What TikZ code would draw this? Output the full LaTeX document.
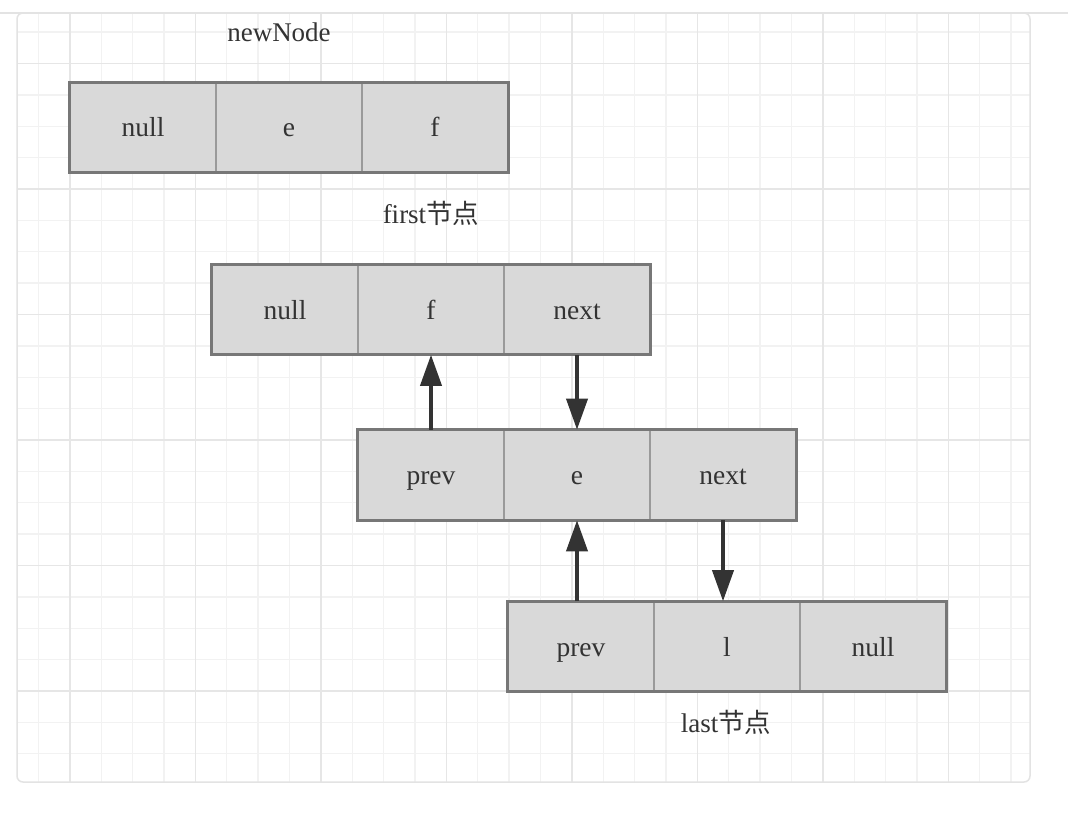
\documentclass[tikz,border=0pt]{standalone}
\usepackage{fontspec}
\setmainfont{Liberation Serif}
\newfontfamily\cjk{Noto Sans CJK SC}
\usetikzlibrary{arrows.meta}
\definecolor{cellfill}{HTML}{D9D9D9}
\definecolor{cellline}{HTML}{9A9A9A}
\definecolor{boxline}{HTML}{777777}
\definecolor{txt}{HTML}{333333}
\definecolor{arrowc}{HTML}{333333}
\definecolor{gridminor}{HTML}{F2F2F2}
\definecolor{gridmajor}{HTML}{E6E6E6}
\definecolor{framec}{HTML}{E3E3E3}
\tikzset{
  cell/.style={draw=cellline, line width=1.6pt, fill=cellfill, minimum width=146pt, minimum height=89pt, inner sep=0pt, text=txt, font=\fontsize{27.5}{32}\selectfont, text height=24pt, text depth=5pt, anchor=center},
  outer/.style={draw=boxline, line width=3pt},
  lbl/.style={text=txt, font=\fontsize{27}{32}\selectfont, inner sep=0pt, text height=24pt, text depth=5pt},
  arr/.style={draw=arrowc, line width=3.8pt, -{Triangle[width=21pt,length=31pt]}},
}
\begin{document}
\begin{tikzpicture}[x=1pt,y=-1pt]
\useasboundingbox (0,0) rectangle (1068,813);
\fill[white] (0,0) rectangle (1068,813);
% grid
\begin{scope}
\clip[rounded corners=6pt] (17,13) rectangle (1030,782);
\foreach \i in {0,...,33} {
  \draw[gridminor, line width=1.4pt] ({7.125+\i*31.375},0) -- ({7.125+\i*31.375},813);
}
\foreach \j in {0,...,26} {
  \draw[gridminor, line width=1.4pt] (0,{0.75+\j*31.375}) -- (1068,{0.75+\j*31.375});
}
\foreach \i in {0,...,8} {
  \draw[gridmajor, line width=1.8pt] ({70+\i*125.5},0) -- ({70+\i*125.5},813);
}
\foreach \j in {0,...,6} {
  \draw[gridmajor, line width=1.8pt] (0,{63.5+\j*125.5}) -- (1068,{63.5+\j*125.5});
}
\end{scope}
\draw[framec, line width=1.5pt, rounded corners=6pt] (17,13) rectangle (1030,782);
\draw[framec, line width=1.5pt] (0,13) -- (1068,13);

% newNode
\node[cell] (a1) at (143,127.5) {null};
\node[cell] (a2) at (289,127.5) {e};
\node[cell] (a3) at (435,127.5) {f};
\draw[outer] (a1.north west) rectangle (a3.south east);
% first
\node[cell] (b1) at (285,309.5) {null};
\node[cell] (b2) at (431,309.5) {f};
\node[cell] (b3) at (577,309.5) {next};
\draw[outer] (b1.north west) rectangle (b3.south east);
% middle
\node[cell] (c1) at (431,475) {prev};
\node[cell] (c2) at (577,475) {e};
\node[cell] (c3) at (723,475) {next};
\draw[outer] (c1.north west) rectangle (c3.south east);
% last
\node[cell] (d1) at (581,646.5) {prev};
\node[cell] (d2) at (727,646.5) {l};
\node[cell] (d3) at (873,646.5) {null};
\draw[outer] (d1.north west) rectangle (d3.south east);

% labels
\node[lbl] (ln) at (279,32.5) {newNode};
\node[lbl] (lf) at (431,213.5) {first{\cjk\fontsize{26.5}{30}\selectfont 节点}};
\node[lbl] (ll) at (726,722.5) {last{\cjk\fontsize{26.5}{30}\selectfont 节点}};

% arrows
\draw[arr] (c1.north) -- (b2.south);
\draw[arr] (b3.south) -- (c2.north -| b3.south);
\draw[arr] (d1.north -| c2.south) -- (c2.south);
\draw[arr] (c3.south) -- (d2.north -| c3.south);
\end{tikzpicture}
\end{document}
